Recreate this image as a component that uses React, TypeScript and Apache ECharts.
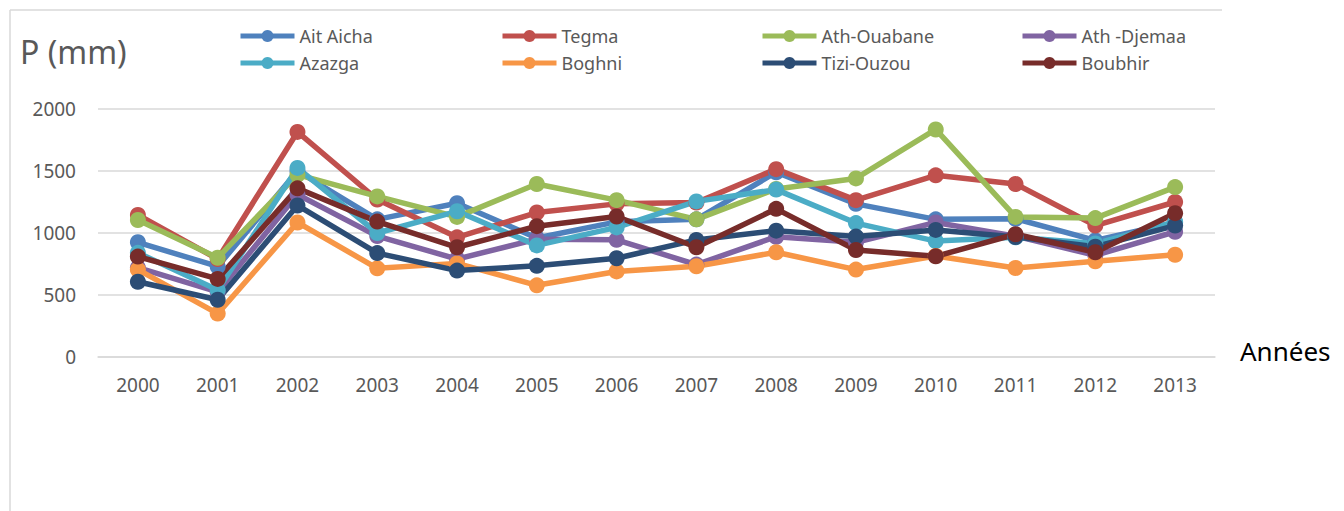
import React, { useEffect, useRef } from "react";
import * as echarts from "echarts";

const years = ["2000", "2001", "2002", "2003", "2004", "2005", "2006", "2007", "2008", "2009", "2010", "2011", "2012", "2013"];

const aitAicha = [925, 730, 1500, 1110, 1240, 960, 1090, 1110, 1490, 1235, 1110, 1115, 940, 1085];
const tegma = [1145, 790, 1815, 1270, 965, 1165, 1235, 1245, 1515, 1265, 1465, 1395, 1060, 1250];
const athOuabane = [1105, 800, 1470, 1295, 1130, 1395, 1265, 1110, 1355, 1440, 1835, 1130, 1120, 1370];
const athDjemaa = [720, 525, 1310, 975, 790, 950, 945, 745, 970, 925, 1085, 975, 820, 1010];
const azazga = [840, 540, 1525, 1000, 1175, 900, 1045, 1255, 1350, 1080, 935, 965, 915, 1090];
const boghni = [705, 350, 1085, 715, 755, 578, 690, 732, 845, 705, 815, 718, 772, 825];
const tiziOuzou = [607, 462, 1222, 838, 697, 735, 796, 944, 1019, 971, 1025, 968, 890, 1060];
const boubhir = [810, 630, 1360, 1092, 885, 1055, 1133, 885, 1195, 863, 812, 990, 845, 1160];

const seriesNames = ["Ait Aicha", "Tegma", "Ath-Ouabane", "Ath -Djemaa", "Azazga", "Boghni", "Tizi-Ouzou", "Boubhir"];
const seriesData = [aitAicha, tegma, athOuabane, athDjemaa, azazga, boghni, tiziOuzou, boubhir];
const colors = ["#4F81BD", "#C0504D", "#9BBB59", "#8064A2", "#4BACC6", "#F79646", "#2C4D75", "#772C2A"];

const FONT = "Noto Sans";

export default function App() {
  const ref = useRef<HTMLDivElement>(null);
  useEffect(() => {
    if (!ref.current) return;
    const chart = echarts.init(ref.current, undefined, { renderer: "svg" });
    const legendLefts = [238, 500, 760, 1020];
    const legendTops = [27, 54];
    const legends = seriesNames.map((name, i) => ({
      show: true,
      data: [name],
      left: legendLefts[i % 4],
      top: legendTops[Math.floor(i / 4)],
      padding: 0,
      itemWidth: 54,
      itemHeight: 15,
      itemGap: 5,
      lineStyle: { width: 5 },
      textStyle: { color: "#595959", fontSize: 18, fontFamily: FONT },
    }));
    chart.setOption({
      animation: false,
      color: colors,
      legend: legends,
      grid: { left: 98, right: 129, top: 109, bottom: 154, containLabel: false },
      xAxis: {
        type: "category",
        data: years,
        boundaryGap: true,
        axisLine: { show: true, lineStyle: { color: "#D9D9D9", width: 1.5 } },
        axisTick: { show: false },
        axisLabel: { color: "#595959", fontSize: 19, fontFamily: FONT, margin: 18 },
      },
      yAxis: {
        type: "value",
        min: 0,
        max: 2000,
        interval: 500,
        axisLine: { show: false },
        axisTick: { show: false },
        axisLabel: {
          color: "#595959",
          fontSize: 19,
          fontFamily: FONT,
          margin: 22,
          formatter: (v: number) => String(v),
        },
        splitLine: { lineStyle: { color: "#D9D9D9", width: 1.5 } },
      },
      series: seriesNames.map((name, i) => ({
        name,
        type: "line",
        data: seriesData[i],
        symbol: "circle",
        symbolSize: 16,
        lineStyle: { width: 5.5, color: colors[i] },
        itemStyle: { color: colors[i] },
        emphasis: { disabled: true },
      })),
      graphic: [
        { type: "line", shape: { x1: 10, y1: 10, x2: 1222, y2: 10 }, style: { stroke: "#D9D9D9", lineWidth: 1.5 } },
        { type: "line", shape: { x1: 10, y1: 10, x2: 10, y2: 511 }, style: { stroke: "#D9D9D9", lineWidth: 1.5 } },
        {
          type: "text",
          left: 20,
          top: 35,
          style: { text: "P (mm)", fill: "#595959", fontSize: 32, fontFamily: FONT },
        },
        {
          type: "text",
          left: 1240,
          top: 338,
          style: { text: "Années", fill: "#000000", fontSize: 26, fontFamily: FONT },
        },
      ],
    });
    return () => chart.dispose();
  }, []);
  return (
    <div
      ref={ref}
      style={{ position: "absolute", left: 0, top: 0, width: 1344, height: 511, background: "#fff" }}
    />
  );
}
